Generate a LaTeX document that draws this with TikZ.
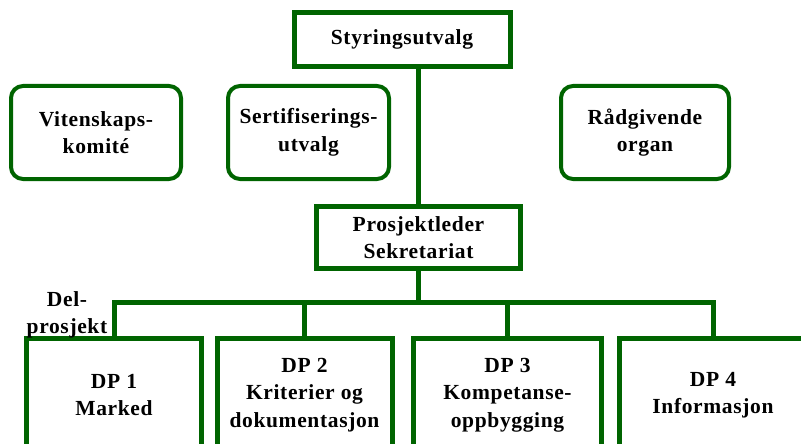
\documentclass[tikz,border=0pt]{standalone}
\usepackage{fontspec}
\setmainfont{Liberation Serif}[LetterSpace=3]
\definecolor{dgreen}{RGB}{0,100,0}
\begin{document}
\begin{tikzpicture}[x=1pt,y=-1pt,
  txt/.style={font=\bfseries\fontsize{21.5}{27.5}\selectfont, align=center, text=black},
  sqbox/.style={txt, draw=dgreen, line width=5pt, fill=white, inner sep=0pt},
  rndbox/.style={txt, draw=dgreen, line width=4pt, fill=white, rounded corners=12pt, inner sep=0pt},
  conn/.style={draw=dgreen, line width=5pt}]
\useasboundingbox (0,0) rectangle (801,444);
\clip (0,0) rectangle (801,444);
\fill[white] (0,0) rectangle (801,444);
\coordinate (bar) at (418,302);
\node[sqbox, minimum width=216pt, minimum height=54pt] (top) at (402,39.5) {Styringsutvalg};
\node[rndbox, minimum width=170pt, minimum height=93pt] (vit) at (96,132.5) {Vitenskaps-\\komité};
\node[rndbox, minimum width=161pt, minimum height=93pt] (ser) at (308.5,132.5) {Sertifiserings-\\utvalg};
\node[rndbox, minimum width=168pt, minimum height=93pt] (rad) at (645,132.5) {Rådgivende\\organ};
\node[sqbox, minimum width=204pt, minimum height=62pt] (pro) at (418.5,237.5) {Prosjektleder\\Sekretariat};
\node[sqbox, minimum width=175pt, minimum height=114pt] (dp1) at (114,395) {DP 1\\Marked};
\node[sqbox, minimum width=175pt, minimum height=114pt] (dp2) at (304.5,395) {DP 2\\Kriterier og\\dokumentasjon};
\node[sqbox, minimum width=188pt, minimum height=114pt] (dp3) at (507.5,395) {DP 3\\Kompetanse-\\oppbygging};
\node[sqbox, minimum width=188pt, minimum height=114pt] (dp4) at (713,395) {DP 4\\Informasjon};
\node[txt] (del) at (67,315) {Del-\\prosjekt};
\begin{scope}[line cap=rect]
\draw[conn] (pro.north) -- (pro.north |- top.south);
\draw[conn] (pro.south) -- (pro.south |- bar);
\draw[conn] (dp1.north) |- (bar);
\draw[conn] (dp4.north) |- (bar);
\draw[conn] (dp2.north) -- (dp2.north |- bar);
\draw[conn] (dp3.north) -- (dp3.north |- bar);
\end{scope}
\end{tikzpicture}
\end{document}
